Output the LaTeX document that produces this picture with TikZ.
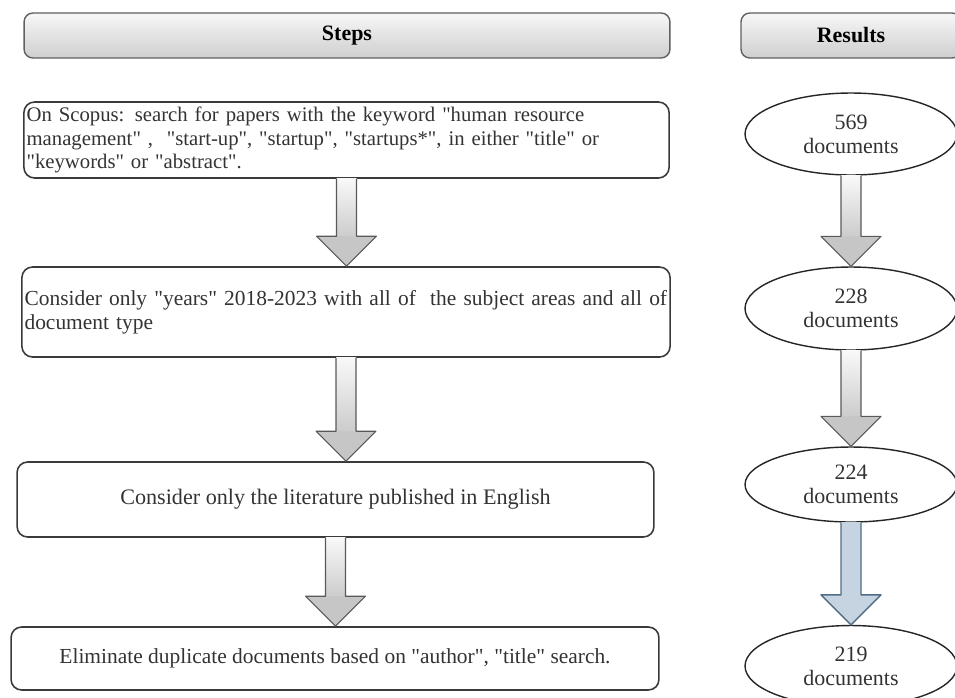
\documentclass[tikz,border=0pt]{standalone}
\usepackage{fontspec}
\setmainfont{Liberation Serif}
\usetikzlibrary{positioning,calc,shapes.geometric}

\definecolor{txtgray}{HTML}{333333}
\definecolor{boxline}{HTML}{3A3A3A}
\definecolor{blueshaft}{HTML}{C6D4E1}
\definecolor{blueline}{HTML}{4F6D86}

\newcommand{\dq}{\textquotedbl}

\tikzset{
  header/.style={draw=gray!75!black, line width=0.8pt, rounded corners=5pt,
    top color=gray!6, bottom color=gray!38, text=black,
    font=\bfseries\fontsize{12.5}{14}\selectfont, inner sep=0pt},
  stepbox/.style={draw=boxline, line width=0.9pt, rounded corners=6pt,
    text=txtgray, inner sep=1.5pt},
  result/.style={ellipse, draw=black!85, line width=0.8pt, text=txtgray,
    minimum width=4.24cm, align=center, inner sep=0pt,
    font=\fontsize{12.5}{13.8}\selectfont},
  gray shaft/.style={top color=gray!5, bottom color=gray!40},
  gray head/.style={fill=gray!45},
  gray line/.style={draw=gray!70!black, line width=0.6pt, line join=round},
  blue shaft/.style={top color=blueshaft, bottom color=blueshaft},
  blue head/.style={fill=blueshaft},
  blue line/.style={draw=blueline, line width=0.8pt, line join=round}
}

\newcommand{\blockarrow}[3][gray]{%
  \coordinate (ba-from) at (#2);
  \coordinate (ba-to) at (#2 |- #3);
  \shade[#1 shaft] ($(ba-from)+(-10,0)$) rectangle ($(ba-to)+(10,-30)$);
  \fill[#1 head] ($(ba-to)+(-30,-30)$) -- (ba-to) -- ($(ba-to)+(30,-30)$) -- cycle;
  \draw[#1 line] ($(ba-from)+(-10,0)$) -- ($(ba-to)+(-10,-30)$) -- ($(ba-to)+(-30,-30)$)
    -- (ba-to) -- ($(ba-to)+(30,-30)$) -- ($(ba-to)+(10,-30)$) -- ($(ba-from)+(10,0)$);
}

\begin{document}
\begin{tikzpicture}[x=0.02cm, y=-0.02cm]
  \useasboundingbox (0,0) rectangle (955,697);

  \node[header, minimum width=12.92cm, minimum height=0.9cm] (steps) at (347,35.5) {Steps};
  \node[header, minimum width=4.4cm, minimum height=0.9cm] (results) at (851,35.5) {Results};

  \node[stepbox, minimum width=12.86cm, minimum height=1.52cm, text width=12.8cm, align=left,
    font=\fontsize{11.8}{13.2}\selectfont] (s1) at (346.5,140)
    {On Scopus: search for papers with the keyword \dq human resource\\
     management\dq{} , \ \dq start-up\dq, \dq startup\dq, \dq startups*\dq, in either \dq title\dq{} or\\
     \dq keywords\dq{} or \dq abstract\dq.};
  \node[stepbox, minimum width=12.88cm, minimum height=1.8cm, text width=12.86cm, align=left,
    font=\fontsize{12.2}{13.5}\selectfont] (s2) at (346,312)
    {Consider only \dq years\dq{} 2018-2023 with all of \ the subject areas and all of\\
     document type};
  \node[stepbox, minimum width=12.74cm, minimum height=1.5cm,
    font=\fontsize{12.6}{14}\selectfont] (s3) at (335.5,499.5)
    {Consider only the literature published in English};
  \node[stepbox, minimum width=12.96cm, minimum height=1.26cm,
    font=\fontsize{12.2}{13.5}\selectfont] (s4) at (335,658.5)
    {Eliminate duplicate documents based on \dq author\dq, \dq title\dq{} search.};

  \node[result, minimum height=1.64cm] (r1) at (851,134) {569\\documents};
  \node[result, minimum height=1.66cm] (r2) at (851,308.5) {228\\documents};
  \node[result, minimum height=1.5cm] (r3) at (851,484.5) {224\\documents};
  \node[result, minimum height=1.62cm] (r4) at (851,666) {219\\documents};

  \blockarrow{r1.south}{r2.north}
  \blockarrow{r2.south}{r3.north}
  \blockarrow[blue]{r3.south}{r4.north}
  \blockarrow{s1.south}{s2.north}
  \blockarrow{s2.south}{s3.north}
  \blockarrow{s3.south}{s4.north}
\end{tikzpicture}
\end{document}
